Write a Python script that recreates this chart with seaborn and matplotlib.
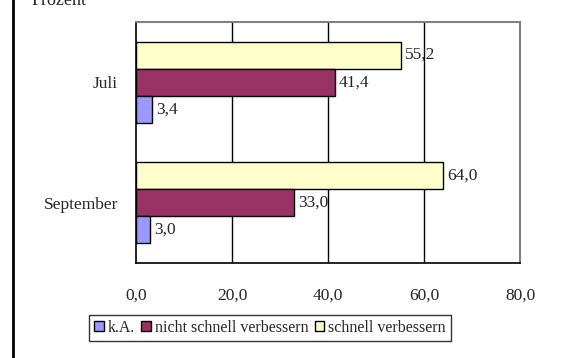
import matplotlib
matplotlib.use("Agg")
import matplotlib.pyplot as plt
from matplotlib.lines import Line2D
from matplotlib.patches import Patch
from matplotlib.ticker import FuncFormatter, FixedLocator
import seaborn as sns
import pandas as pd

months = ["Juli", "September"]
ka = [3.4, 3.0]
nicht = [41.4, 33.0]
schnell = [55.2, 64.0]
categories = ["k.A.", "nicht schnell verbessern", "schnell verbessern"]
colors = {"k.A.": "#9999FF", "nicht schnell verbessern": "#993366", "schnell verbessern": "#FFFFCC"}
x_ticks = [0, 20, 40, 60, 80]

rows = []
for i, m in enumerate(months):
    rows.append((m, "k.A.", ka[i]))
    rows.append((m, "nicht schnell verbessern", nicht[i]))
    rows.append((m, "schnell verbessern", schnell[i]))
df = pd.DataFrame(rows, columns=["Monat", "Kategorie", "Wert"])

sns.set_style("white")
plt.rcParams["font.family"] = ["Liberation Serif", "DejaVu Serif"]
plt.rcParams["font.size"] = 12.5

W, H = 564, 358
fig = plt.figure(figsize=(W / 100, H / 100), dpi=100)
ax = fig.add_axes([136 / W, 1 - 263 / H, (520 - 136) / W, (263 - 22) / H])

hue_order = ["schnell verbessern", "nicht schnell verbessern", "k.A."]
sns.barplot(data=df, y="Monat", x="Wert", hue="Kategorie", hue_order=hue_order,
            order=months, orient="h", width=0.675, palette=colors, saturation=1,
            edgecolor="black", linewidth=1, dodge=True, legend=False, ax=ax)

for cont in ax.containers:
    labels = [f"{v:.1f}".replace(".", ",") for v in cont.datavalues]
    ax.bar_label(cont, labels=labels, padding=3, fontsize=12.5)

ax.set_xlim(0, 80)
ax.set_ylim(1.5, -0.5)
ax.set_xlabel("")
ax.set_ylabel("")
ax.xaxis.set_major_locator(FixedLocator(x_ticks))
ax.xaxis.set_major_formatter(FuncFormatter(lambda v, p: f"{v:.1f}".replace(".", ",")))
ax.tick_params(axis="x", direction="inout", length=10, width=1, color="black", pad=13, labelsize=12.5)
ax.set_yticks([0, 1])
ax.set_yticklabels(months)
ax.tick_params(axis="y", which="major", length=0, pad=13, labelsize=12.5)
ax.set_yticks([-0.5, 0.5, 1.5], minor=True)
ax.tick_params(axis="y", which="minor", length=6, width=1, color="black", direction="out")

ax.grid(False)
for xv in [20, 40, 60]:
    ax.axvline(xv, color="black", lw=1, zorder=0)
ax.set_axisbelow(True)
for s in ["left", "bottom"]:
    ax.spines[s].set_color("black")
    ax.spines[s].set_linewidth(1.2)
for s in ["top", "right"]:
    ax.spines[s].set_color("#808080")
    ax.spines[s].set_linewidth(1.5)

handles = [Patch(facecolor=colors[c], edgecolor="black", linewidth=1) for c in categories]
leg = fig.legend(handles, categories, loc="center", bbox_to_anchor=(270 / W, 1 - 328 / H),
                 ncol=3, frameon=True, fancybox=False, edgecolor="black",
                 handlelength=0.6, handleheight=0.6, handletextpad=0.25,
                 columnspacing=0.4, borderpad=0.3, borderaxespad=0, fontsize=11.5)
leg.get_frame().set_linewidth(1)

fig.add_artist(Line2D([13 / W, 13 / W], [0, 1], color="black", lw=2))
fig.text(32 / W, 1 - 5 / H, "Prozent", fontsize=13, va="baseline", ha="left")

fig.savefig("out.png", dpi=100)
